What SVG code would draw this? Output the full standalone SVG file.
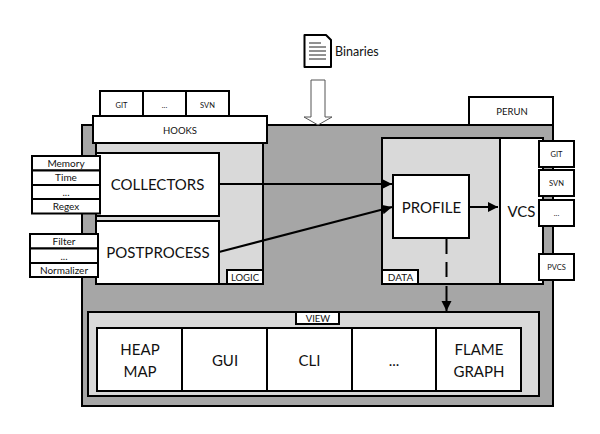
<svg xmlns="http://www.w3.org/2000/svg" width="600" height="434" viewBox="0 0 600 434">
<style>
rect,.s{stroke:#000;stroke-width:2}
.w{fill:#fff}.l{fill:#d9d9d9}.d{fill:#a6a6a6}
text{font-family:Lato,"Open Sans",sans-serif;fill:#111;text-anchor:middle}
.t8{font-size:7.500px}.t10{font-size:10px}.t95{font-size:9.500px}.t12{font-size:12.500px}.t17{font-size:15px}
.c{fill:none;stroke:#000;stroke-width:2}
</style>
<defs><marker id="a" markerUnits="userSpaceOnUse" markerWidth="11" markerHeight="12" refX="10" refY="5" orient="auto"><path d="M0 0L10 5L0 10Z" fill="#000"/></marker></defs>
<g id="perun-frame"><rect class="d" x="82" y="125" width="471" height="281"/></g>
<g id="perun"><rect class="w" x="469" y="97" width="84" height="28"/><text class="t95" x="512" y="115">PERUN</text></g>
<g id="binaries"><path class="s" fill="#fff" d="M304.500 35H326L331 40V67H304.500Z" stroke-linejoin="round"/><path d="M309 43H321M309 47H326M309 51H326M309 55H326M309 59H326" stroke="#222" fill="none"/><text class="t12" x="335" y="55.500" style="text-anchor:start">Binaries</text></g>
<g id="input-arrow"><path d="M311 80H325V117H332L318 125L304 117H311Z" fill="#fff" stroke="#555"/></g>
<g id="logic"><rect class="l" x="96" y="143" width="167" height="141"/></g>
<g id="hook-git"><rect class="w" x="100" y="91" width="43" height="27"/><text class="t8" x="121.500" y="108">GIT</text></g>
<g id="hook-more"><rect class="w" x="143" y="91" width="43" height="27"/><text class="t8" x="164.500" y="108">...</text></g>
<g id="hook-svn"><rect class="w" x="186" y="91" width="43" height="27"/><text class="t8" x="207.500" y="108">SVN</text></g>
<g id="hooks"><rect class="w" x="93" y="116" width="174" height="27"/><text class="t95" x="180" y="134">HOOKS</text></g>
<g id="collectors"><rect class="w" x="96" y="153" width="123" height="63"/><text class="t17" x="157.500" y="190">COLLECTORS</text></g>
<g id="postprocess"><rect class="w" x="96" y="221" width="123" height="63"/><text class="t17" x="158" y="258">POSTPROCESS</text></g>
<g id="memory"><rect class="w" x="32" y="156" width="68" height="14.500"/><text class="t10" x="66" y="167">Memory</text></g>
<g id="time"><rect class="w" x="32" y="170.500" width="68" height="14.500"/><text class="t10" x="66" y="181">Time</text></g>
<g id="collector-more"><rect class="w" x="32" y="185" width="68" height="14"/><text class="t10" x="66" y="196">...</text></g>
<g id="regex"><rect class="w" x="32" y="199" width="68" height="14.500"/><text class="t10" x="66" y="210">Regex</text></g>
<g id="filter"><rect class="w" x="30" y="234" width="68" height="14.500"/><text class="t10" x="64" y="245">Filter</text></g>
<g id="post-more"><rect class="w" x="30" y="248.500" width="68" height="14.500"/><text class="t10" x="64" y="260">...</text></g>
<g id="normalizer"><rect class="w" x="30" y="263" width="68" height="14"/><text class="t10" x="64" y="274">Normalizer</text></g>
<g id="logic-label"><rect class="w" x="227" y="270" width="36" height="14"/><text class="t95" x="245" y="281">LOGIC</text></g>
<g id="data"><rect class="l" x="382" y="138" width="161" height="146"/></g>
<g id="vcs"><rect class="w" x="500" y="138" width="43" height="146"/><text class="t17" x="521.500" y="217">VCS</text></g>
<g id="profile"><rect class="w" x="393" y="175" width="76" height="63"/><text class="t17" x="431.500" y="213">PROFILE</text></g>
<g id="data-label"><rect class="w" x="382" y="270" width="36" height="14"/><text class="t10" x="400.500" y="281">DATA</text></g>
<g id="vcs-git"><rect class="w" x="539" y="141" width="35" height="26"/><text class="t8" x="556.500" y="157">GIT</text></g>
<g id="vcs-svn"><rect class="w" x="539" y="170" width="35" height="26"/><text class="t8" x="556.500" y="186">SVN</text></g>
<g id="vcs-more"><rect class="w" x="539" y="200" width="35" height="26"/><text class="t8" x="556.500" y="216">...</text></g>
<g id="pvcs"><rect class="w" x="539" y="254" width="35" height="26"/><text class="t8" x="556.500" y="270">PVCS</text></g>
<g id="view"><rect class="l" x="88" y="312" width="451" height="84"/></g>
<g id="view-label"><rect class="w" x="296" y="312" width="43" height="12"/><text class="t95" x="318" y="322">VIEW</text></g>
<g id="heap-map"><rect class="w" x="97" y="328" width="85" height="63"/><text class="t17" x="140" y="355">HEAP</text><text class="t17" x="140" y="377">MAP</text></g>
<g id="gui"><rect class="w" x="182" y="328" width="85" height="63"/><text class="t17" x="225" y="366">GUI</text></g>
<g id="cli"><rect class="w" x="267" y="328" width="85" height="63"/><text class="t17" x="309.500" y="366">CLI</text></g>
<g id="view-more"><rect class="w" x="352" y="328" width="84" height="63"/><text class="t17" x="394" y="366">...</text></g>
<g id="flame-graph"><rect class="w" x="436" y="328" width="85" height="63"/><text class="t17" x="479" y="355">FLAME</text><text class="t17" x="479" y="377">GRAPH</text></g>
<g id="connectors">
<path class="c" marker-end="url(#a)" d="M219 184H392"/>
<path class="c" marker-end="url(#a)" d="M219 252L392 207"/>
<path class="c" marker-end="url(#a)" d="M469 207H498"/>
<path class="c" stroke-dasharray="15 8" d="M446.500 239V278"/>
<path class="c" marker-end="url(#a)" d="M446.500 286V311"/>
</g>
</svg>
